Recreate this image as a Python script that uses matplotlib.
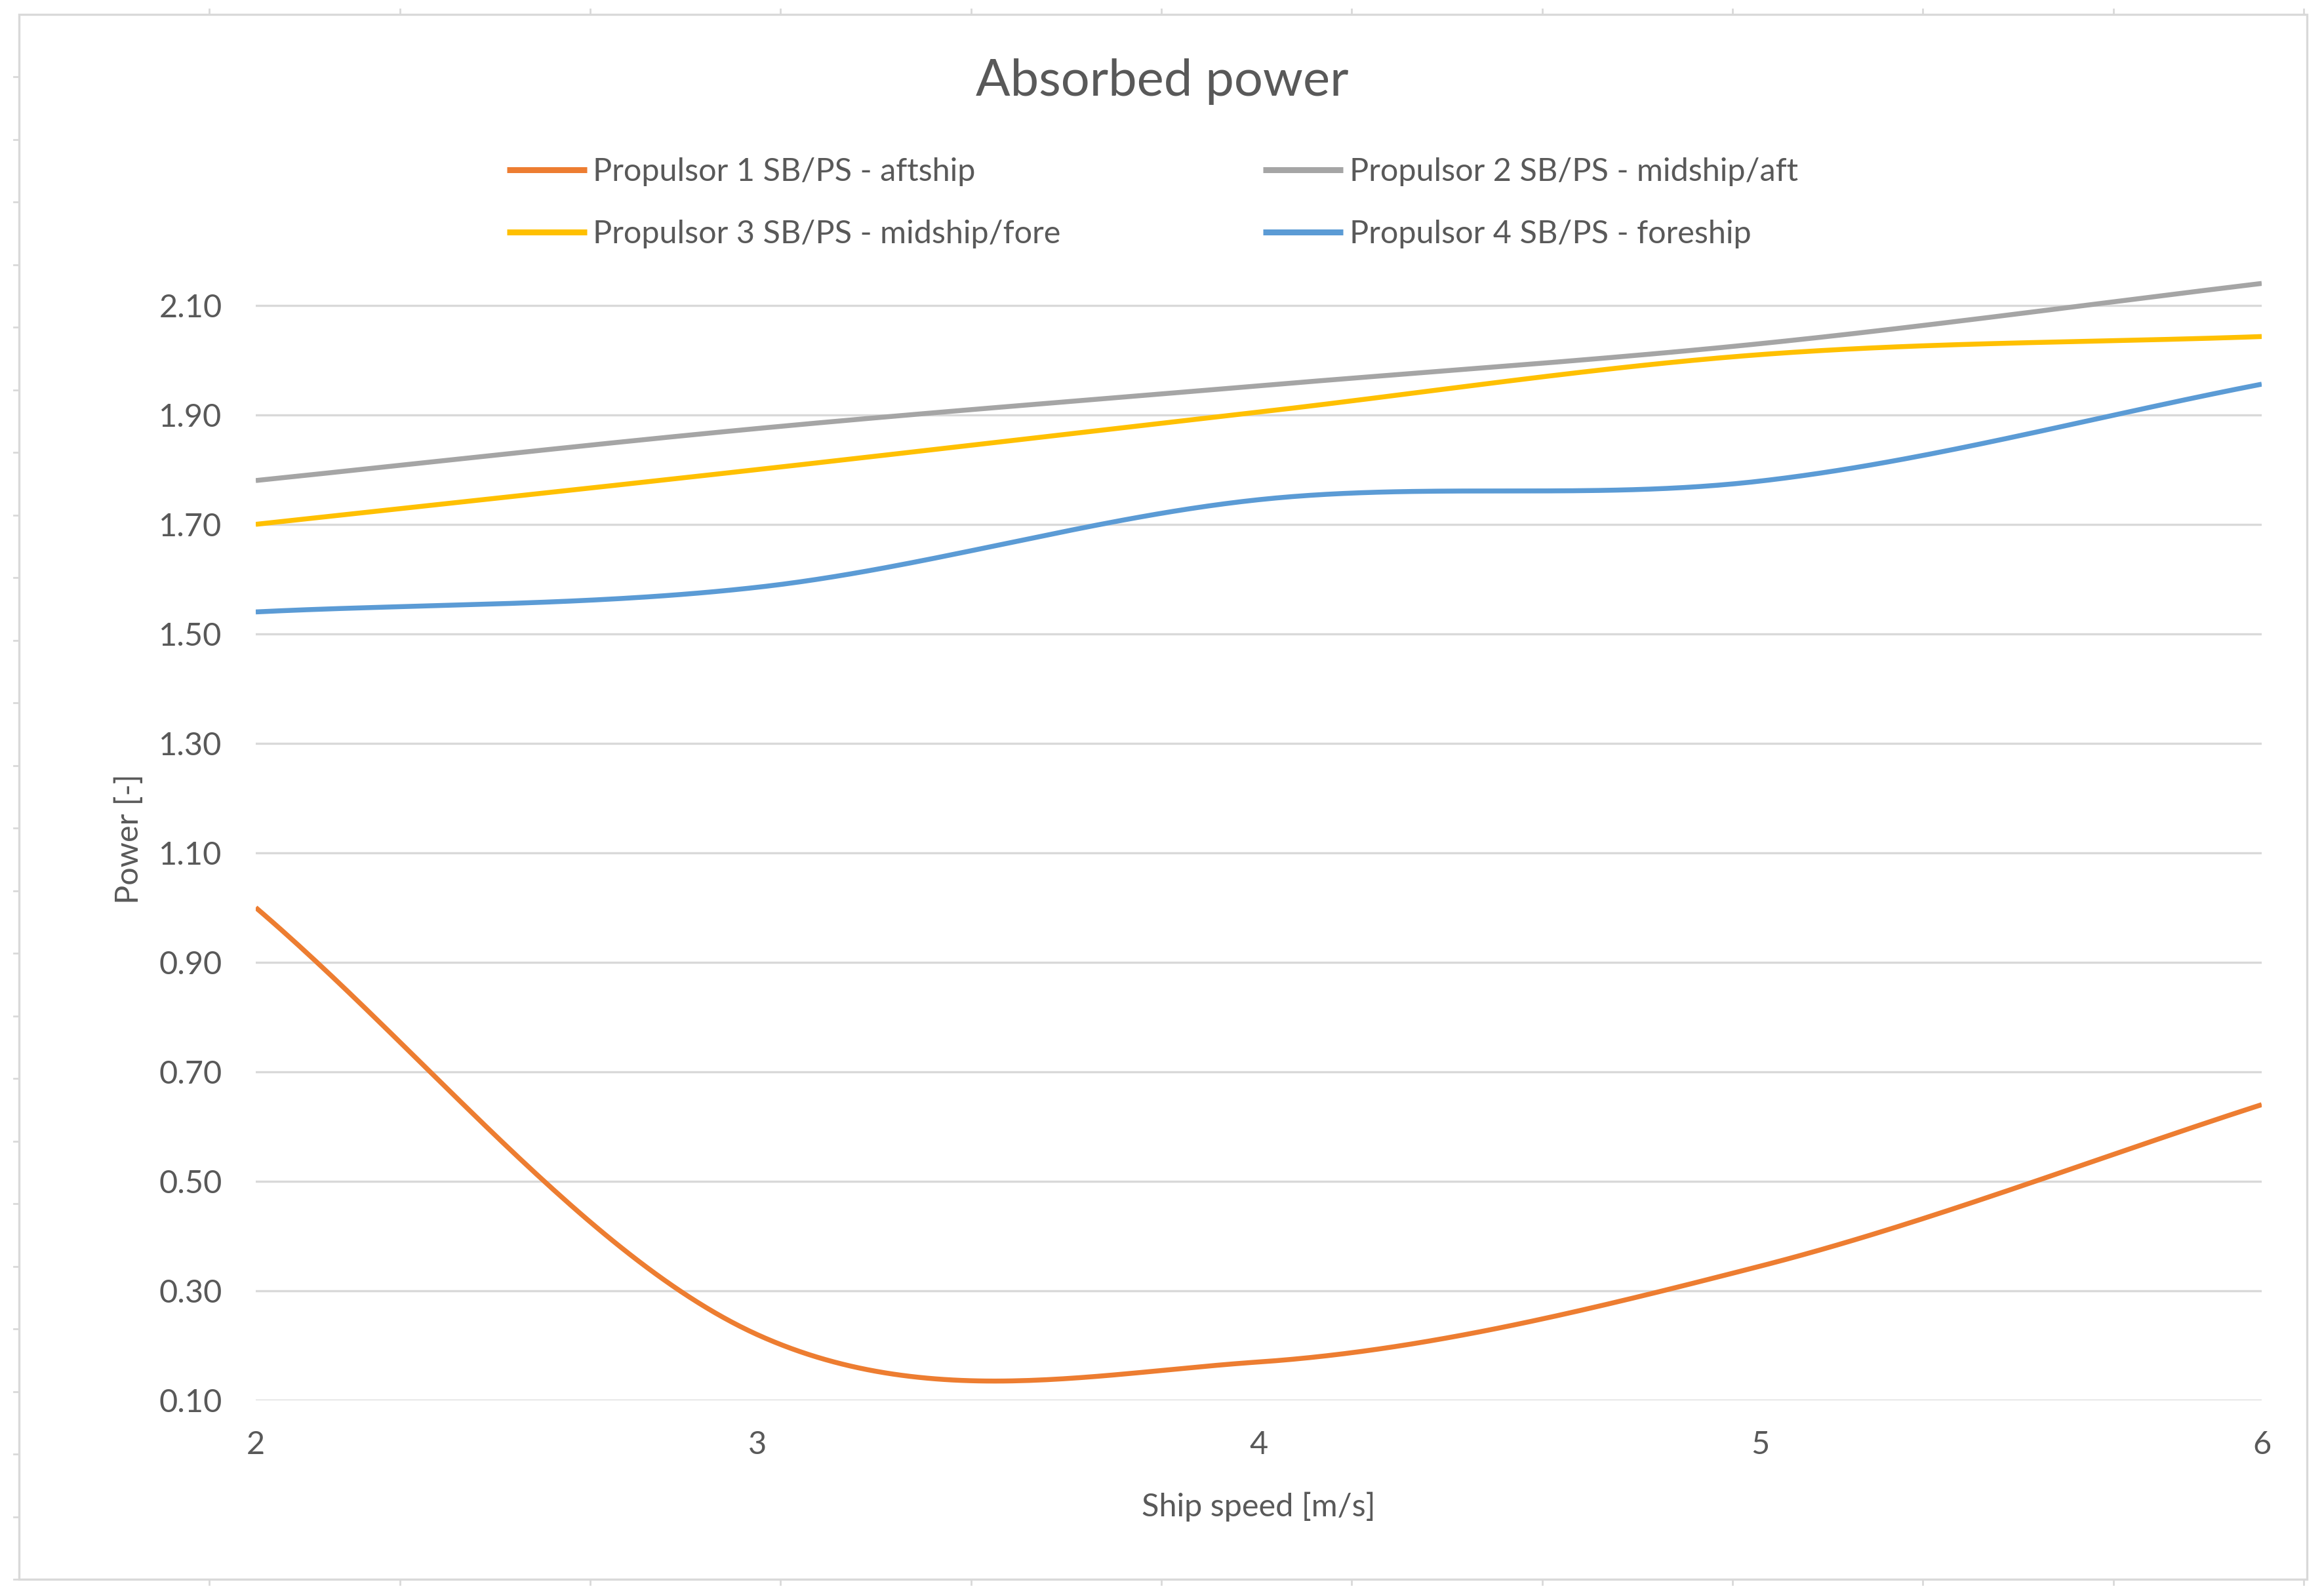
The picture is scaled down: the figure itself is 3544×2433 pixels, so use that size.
import numpy as np
import matplotlib
matplotlib.use("Agg")
import matplotlib.pyplot as plt
from matplotlib.lines import Line2D
from matplotlib.patches import Rectangle

# ------------------------------------------------------------------
# data (points at integer ship speeds)
# ------------------------------------------------------------------
speed = [2, 3, 4, 5, 6]
prop1_aft = [1.00, 0.22, 0.17, 0.345, 0.64]
prop2_midaft = [1.78, 1.875, 1.953, 2.03, 2.14]
prop3_midfore = [1.70, 1.80, 1.905, 2.01, 2.043]
prop4_fore = [1.54, 1.585, 1.745, 1.779, 1.956]

labels = ["Propulsor 1 SB/PS - aftship",
          "Propulsor 2 SB/PS - midship/aft",
          "Propulsor 3 SB/PS - midship/fore",
          "Propulsor 4 SB/PS - foreship"]
colors = ["#ED7D31", "#A5A5A5", "#FFC000", "#5B9BD5"]
y_ticks = [0.10, 0.30, 0.50, 0.70, 0.90, 1.10, 1.30, 1.50, 1.70, 1.90, 2.10]
x_ticks = [2, 3, 4, 5, 6]

TEXT = "#595959"
GRID = "#D9D9D9"
FONT = "Lato"


def smooth(x, y, n=60):
    """Excel-style smoothed line: Catmull-Rom through the points."""
    x = np.asarray(x, float)
    y = np.asarray(y, float)
    # phantom end points by reflection
    xp = np.concatenate([[2 * x[0] - x[1]], x, [2 * x[-1] - x[-2]]])
    yp = np.concatenate([[2 * y[0] - y[1]], y, [2 * y[-1] - y[-2]]])
    xs, ys = [], []
    t = np.linspace(0, 1, n)
    h00 = 2 * t**3 - 3 * t**2 + 1
    h10 = t**3 - 2 * t**2 + t
    h01 = -2 * t**3 + 3 * t**2
    h11 = t**3 - t**2
    for i in range(1, len(xp) - 2):
        mx0 = (xp[i + 1] - xp[i - 1]) / 2
        mx1 = (xp[i + 2] - xp[i]) / 2
        my0 = (yp[i + 1] - yp[i - 1]) / 2
        my1 = (yp[i + 2] - yp[i]) / 2
        xs.append(h00 * xp[i] + h10 * mx0 + h01 * xp[i + 1] + h11 * mx1)
        ys.append(h00 * yp[i] + h10 * my0 + h01 * yp[i + 1] + h11 * my1)
    return np.concatenate(xs), np.concatenate(ys)


W, H = 3544, 2433
fig = plt.figure(figsize=(W / 100, H / 100), dpi=100)
fig.patch.set_facecolor("white")

# chart frame and the spreadsheet cell edges peeking out around it
fl, ft, fr, fb = 29, 22, 3518, 2409
fig.add_artist(Rectangle((fl / W, 1 - fb / H), (fr - fl) / W, (fb - ft) / H,
                         transform=fig.transFigure, fill=False,
                         edgecolor=GRID, linewidth=2.4))
col_w = (3513 - fl) / 12
row_h = (fb - ft) / 25
for k in range(1, 13):
    xx = (fl + k * col_w) / W
    fig.add_artist(Line2D([xx, xx], [1 - 14 / H, 1 - ft / H], color=GRID,
                          linewidth=2.0, transform=fig.transFigure))
    fig.add_artist(Line2D([xx, xx], [1 - fb / H, 1 - 2417 / H], color=GRID,
                          linewidth=2.0, transform=fig.transFigure))
for k in range(1, 26):
    yy = 1 - (ft + k * row_h) / H
    fig.add_artist(Line2D([21 / W, fl / W], [yy, yy], color=GRID,
                          linewidth=2.0, transform=fig.transFigure))

ax = fig.add_axes([390 / W, 1 - 2136 / H, (3449 - 390) / W, (2136 - 424) / H])
series = [prop1_aft, prop2_midaft, prop3_midfore, prop4_fore]
lines = []
for vals, lab, col in zip(series, labels, colors):
    sx, sy = smooth(speed, vals)
    ln, = ax.plot(sx, sy, color=col, linewidth=5.4, label=lab,
                  solid_capstyle="butt", zorder=3)
    lines.append(ln)

ax.set_xlim(2, 6)
ax.set_ylim(0.10, 2.15)
ax.set_xticks(x_ticks)
ax.set_yticks(y_ticks)
ax.set_xticklabels([str(v) for v in x_ticks])
ax.set_yticklabels([f"{v:.2f}" for v in y_ticks])
ax.yaxis.grid(True, color=GRID, linewidth=2.4)
ax.set_axisbelow(True)
for s in ax.spines.values():
    s.set_visible(False)
ax.tick_params(length=0, labelsize=35, labelcolor=TEXT)
ax.tick_params(axis="x", pad=33)
ax.tick_params(axis="y", pad=37)
for t in ax.get_xticklabels() + ax.get_yticklabels():
    t.set_fontfamily(FONT)

ax.set_xlabel("Ship speed [m/s]", fontsize=35, color=TEXT, family=FONT,
              labelpad=36)
ax.set_ylabel("Power [-]", fontsize=35, color=TEXT, family=FONT,
              labelpad=17)

fig.text(1772 / W, 1 - 124 / H, "Absorbed power", ha="center", va="center",
         fontsize=56, color=TEXT, family=FONT)

# matplotlib fills legend columns first, so reorder to get Excel's row order
order = [0, 2, 1, 3]
leg = ax.legend([lines[i] for i in order], [labels[i] for i in order],
                loc="upper left", bbox_to_anchor=(773 / W, 1 - 240 / H),
                bbox_transform=fig.transFigure, ncol=2, frameon=False,
                prop={"family": FONT, "size": 35}, handlelength=2.5,
                handletextpad=0.2, columnspacing=6.35, labelspacing=1.05,
                borderpad=0, borderaxespad=0)
for t in leg.get_texts():
    t.set_color(TEXT)
for h in leg.get_lines():
    h.set_linewidth(6.5)

fig.savefig("out.png", dpi=100, facecolor="white")
